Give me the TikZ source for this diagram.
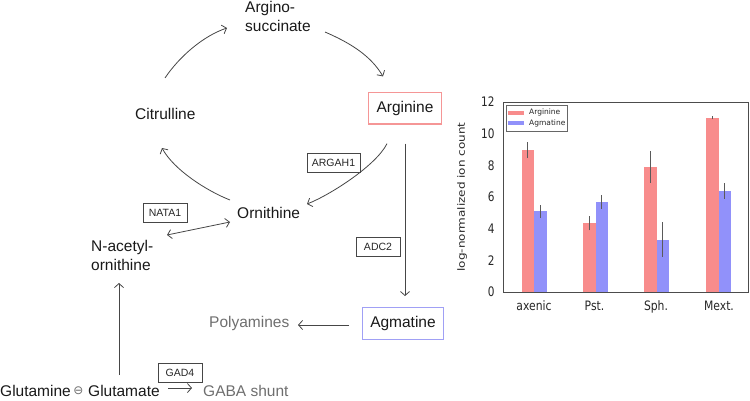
\documentclass[tikz,border=0pt]{standalone}
\usepackage{fontspec}
\usepackage{graphicx}
\setmainfont{Liberation Sans}
\newfontfamily\chartfont{DejaVu Sans}
\usetikzlibrary{arrows.meta,calc}
\definecolor{linegray}{RGB}{70,70,70}
\definecolor{txtgray}{RGB}{110,110,110}
\definecolor{argred}{RGB}{245,150,150}
\definecolor{agmblue}{RGB}{160,160,245}
\definecolor{barred}{RGB}{248,140,140}
\definecolor{barblue}{RGB}{145,145,250}
\definecolor{errgray}{RGB}{90,90,90}
\begin{document}
\begin{tikzpicture}[x=1pt,y=1pt,
  metab/.style={inner sep=0pt, font=\fontsize{15.5}{19.5}\selectfont, text=black!90},
  grayt/.style={metab, text=txtgray},
  enz/.style={draw=linegray, line width=0.8pt, inner sep=0pt, minimum width=44pt, minimum height=19pt, font=\fontsize{10.5}{12}\selectfont, text=black!85},
  flow/.style={draw=linegray, line width=0.8pt, -{Straight Barb[length=4pt,width=9pt]}},
  both/.style={draw=linegray, line width=0.8pt, {Straight Barb[length=4pt,width=9pt]}-{Straight Barb[length=4pt,width=9pt]}},
  hl/.style={line width=1.4pt, inner sep=0pt, minimum height=31.5pt, font=\fontsize{15.5}{19.5}\selectfont, text=black!90},
  tick/.style={font=\chartfont\fontsize{10.5}{12}\selectfont, text=black!85},
  err/.style={draw=errgray, line width=0.6pt},
]
\useasboundingbox (0,0) rectangle (750,400);

% metabolites
\node[metab, anchor=north west, align=left] (asuc) at (245,399) {Argino-\\succinate};
\node[metab, anchor=base west] (cit) at (135,281) {Citrulline};
\node[hl, draw=argred, minimum width=73.5pt] (arg) at (405,291.8) {Arginine};
\node[metab, anchor=base west] (orn) at (237,182) {Ornithine};
\node[metab, anchor=north west, align=left] (nac) at (91,160) {N-acetyl-\\ornithine};
\node[hl, draw=agmblue, minimum width=80.5pt] (agm) at (403,76.5) {Agmatine};
\node[grayt, anchor=base west] (poly) at (209,72.3) {Polyamines};
\node[metab, anchor=base west] (gln) at (0,4) {Glutamine};
\node[inner sep=0pt, text=txtgray, font={\chartfont\fontsize{12}{13}\selectfont}] (sym) at (78.5,9.5) {⊖};
\node[metab, anchor=base west] (glu) at (88,4) {Glutamate};
\node[grayt, anchor=base west] (gaba) at (203,4) {GABA shunt};

% enzymes
\node[enz, minimum width=53pt] (argah) at (333.5,237.3) {ARGAH1};
\node[enz] (nata) at (165,187.5) {NATA1};
\node[enz] (adc) at (378,153.5) {ADC2};
\node[enz] (gad) at (180,27) {GAD4};

% cycle
\draw[flow] ($(cit.base west)+(30,41)$) .. controls +(14,21) and +(-24,-8) .. ($(asuc.north west)+(-18,-27)$);
\draw[flow] ($(asuc.north west)+(80,-31)$) .. controls +(23,-10) and +(-13,22) .. ($(arg.north)+(-22,15.35)$);
\draw[flow] ($(arg.south)+(-18,-19)$) .. controls +(-11,-22) and +(23,9) .. ($(orn.base west)+(70,14)$);
\draw[flow] ($(orn.base west)+(-7,18)$) .. controls +(-23,9) and +(12,-22) .. ($(cit.base west)+(27,-29)$);

% other connectors
\draw[both] ($(nac.north west)+(76,5)$) -- ($(orn.base west)+(-7,-4)$);
\draw[flow] ($(arg.south)+(0,-19)$) -- ($(agm.north)+(2,11)$);
\draw[flow] ($(agm.west)+(-13,-1.5)$) -- ($(poly.base west)+(89,2.7)$);
\draw[flow] ($(glu.base west)+(31,21)$) -- ($(nac.north west)+(28,-43)$);
\draw[flow] ($(glu.base west)+(80,8)$) -- ($(gaba.base west)+(-11,8)$);

% chart
\draw[line width=0.8pt, draw=black!70] (503,108) rectangle (748,298);
\foreach \v in {0,2,...,12}
  \node[tick, anchor=east] at (498,{108+15.83*\v}) {\scalebox{1}[1.25]{\v}};
\foreach \cx/\a/\ae/\b/\be in {534/8.95/0.5/5.1/0.4, 595.5/4.35/0.45/5.7/0.45, 656.5/7.9/1.0/3.3/1.1, 718.5/11.0/0.1/6.4/0.5}{
  \fill[barred] ({\cx-12.5},108.4) rectangle ({\cx},{108+15.83*\a});
  \fill[barblue] ({\cx},108.4) rectangle ({\cx+12.5},{108+15.83*\b});
  \draw[err] ({\cx-6.25},{108+15.83*(\a-\ae)}) -- ({\cx-6.25},{108+15.83*(\a+\ae)});
  \draw[err] ({\cx+6.25},{108+15.83*(\b-\be)}) -- ({\cx+6.25},{108+15.83*(\b+\be)});
}
\foreach \cx/\lab in {534/axenic, 594.5/Pst., 656/Sph., 719/Mext.}
  \node[font=\chartfont\fontsize{10.8}{13}\selectfont, text=black!85, anchor=base] at (\cx,90) {\scalebox{1}[1.2]{\lab}};
\node[rotate=90, font=\chartfont\fontsize{10}{12}\selectfont, text=black!85] at (462,203) {\scalebox{1.2}[1]{log-normalized ion count}};
% legend
\draw[draw=black!60, line width=0.6pt, fill=white] (506,269) rectangle (567,295);
\fill[barred] (508,285.5) rectangle (524,289.5);
\fill[barblue] (508,275) rectangle (524,279);
\node[anchor=west, inner sep=0pt, font=\chartfont\fontsize{7.5}{9}\selectfont, text=black!85] at (529,287.5) {Arginine};
\node[anchor=west, inner sep=0pt, font=\chartfont\fontsize{7.5}{9}\selectfont, text=black!85] at (529,277) {Agmatine};
\end{tikzpicture}
\end{document}
